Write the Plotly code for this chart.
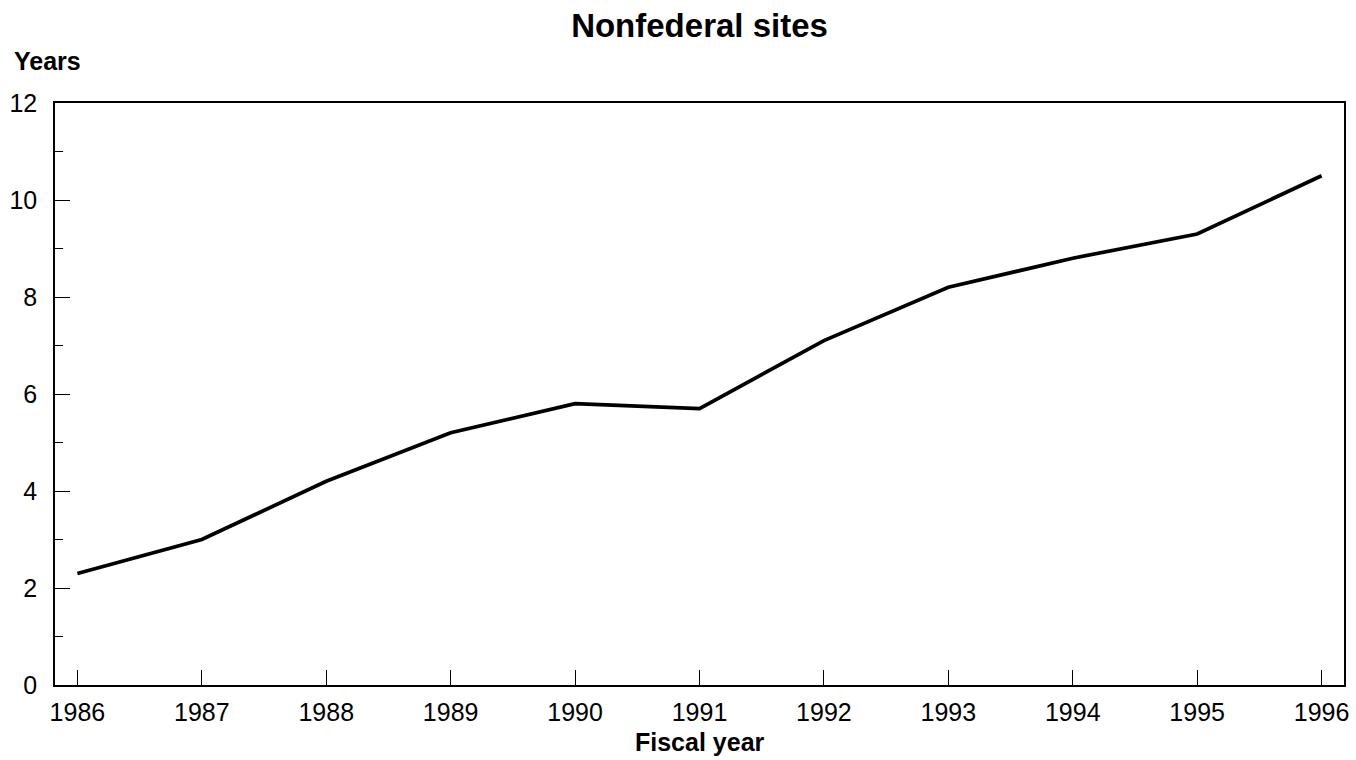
import plotly.graph_objects as go

years = [1986, 1987, 1988, 1989, 1990, 1991, 1992, 1993, 1994, 1995, 1996]
values = [2.3, 3.0, 4.2, 5.2, 5.8, 5.7, 7.1, 8.2, 8.8, 9.3, 10.5]
y_ticks = [0, 2, 4, 6, 8, 10, 12]

FONT = "Liberation Sans, Arial, sans-serif"

fig = go.Figure()
fig.add_trace(go.Scatter(x=years, y=values, mode="lines",
                         line=dict(color="black", width=3.7), showlegend=False))

fig.update_layout(
    width=1356, height=760,
    margin=dict(l=55, r=7, t=103, b=75),
    paper_bgcolor="white", plot_bgcolor="white",
    font=dict(family=FONT, color="black", size=25),
    title=dict(text="<b>Nonfederal sites</b>", x=0.5, xref="paper", xanchor="center",
               yref="container", y=0.967, yanchor="middle",
               font=dict(size=33, family=FONT)),
)
fig.update_xaxes(
    range=[1985.82, 1996.18], tickvals=years, ticks="inside", ticklen=15,
    tickwidth=1, tickcolor="black", showline=True, linecolor="black",
    linewidth=1.5, mirror=True, showgrid=False, zeroline=False,
    tickfont=dict(size=25), ticklabelstandoff=4,
)
fig.update_yaxes(
    range=[0, 12], tickvals=y_ticks, ticks="inside", ticklen=15,
    tickwidth=1, tickcolor="black", showline=True, linecolor="black",
    linewidth=1.5, mirror=True, showgrid=False, zeroline=False,
    tickfont=dict(size=25), ticklabelstandoff=11,
    minor=dict(dtick=1, ticks="inside", ticklen=8, tickcolor="black", showgrid=False),
)
fig.add_annotation(text="<b>Years</b>", xref="paper", yref="paper",
                   x=-0.0333, y=1.072, xanchor="left", yanchor="middle",
                   showarrow=False, font=dict(size=25, family=FONT))
fig.add_annotation(text="<b>Fiscal year</b>", xref="paper", yref="paper",
                   x=0.5, y=-0.098, xanchor="center", yanchor="middle",
                   showarrow=False, font=dict(size=25, family=FONT))

fig.write_html("out.html", config={"displayModeBar": False},
               post_script="document.body.style.margin='0';document.body.style.padding='0';")
